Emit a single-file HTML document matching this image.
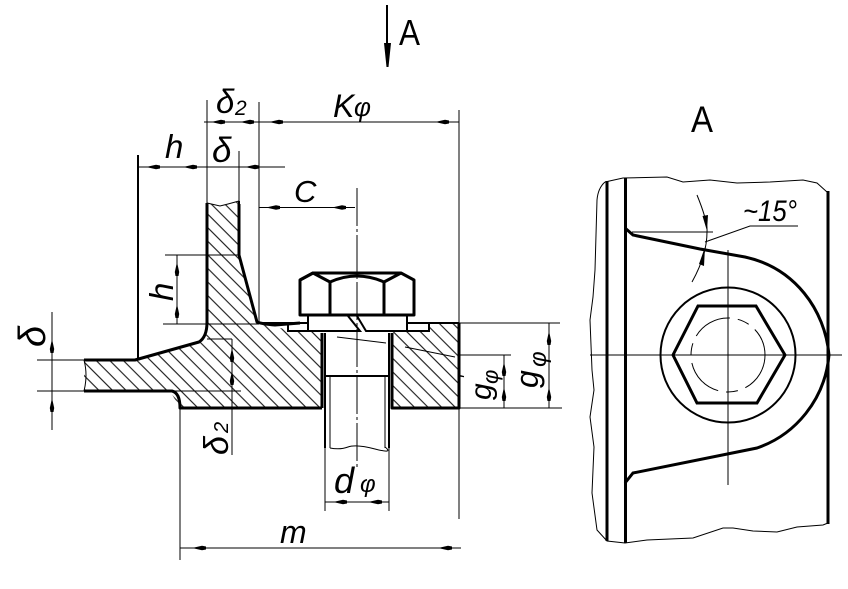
<!DOCTYPE html>
<html><head><meta charset="utf-8">
<style>
html,body{margin:0;padding:0;background:#fff;width:848px;height:589px;overflow:hidden}
svg{display:block}
text{font-family:"Liberation Sans",sans-serif;font-style:italic;fill:#000}
.thin{stroke:#000;stroke-width:1;fill:none}
.med{stroke:#000;stroke-width:2;fill:none}
.thick{stroke:#000;stroke-width:3;fill:none}
.ar{fill:#000;stroke:none}
</style></head>
<body>
<svg width="848" height="589" viewBox="0 0 848 589" xmlns="http://www.w3.org/2000/svg">
<defs>
<pattern id="h" width="9.6" height="9.6" patternUnits="userSpaceOnUse" patternTransform="rotate(45)">
<rect x="0" y="4" width="9.6" height="1" fill="#000"/>
</pattern>
<g id="ah"><path class="ar" d="M-7 0L3-2.2L7-1.5V1.5L3 2.2Z"/></g>
<g id="av"><path class="ar" d="M0-7L2.2 3L1.5 7H-1.5L-2.2 3Z"/></g>
</defs>
<rect width="848" height="589" fill="#fff"/>

<!-- hatching -->
<path fill="url(#h)" d="M207 203L220 206L228 204L239 201V255L257 322L288 330H322V408H180L170 391H84V360H135L200 342L207 330Z"/>
<path fill="url(#h)" d="M392 332H429V323H459V408H392Z"/>

<!-- extension lines and dimension lines -->
<g class="thin">
<path d="M204 122H459M138 167H285M259 207.5H355M180 548H461M325 502H389"/>
<path d="M165 255H240M163 324H259M37 360H135M37 391H170M207 339H232M171 391H241"/>
<path d="M459 323H560M459 355H511M459 408H562"/>
<path d="M52 312V430M177 255V324M232 339V455M504 355V408M549 323V408"/>
<path d="M207 100V203M259 102V324M239 151V204M459 110V519M180 404V560M325 448V511M389 448V511"/>
<path d="M357 188V470" stroke-dasharray="38 3 3 3"/>
<path d="M337 337L386 343M405 347L455 357"/>
</g>
<path class="med" d="M138 155V358"/>

<!-- arrowheads -->
<use href="#ah" x="218" y="122"/><use href="#ah" x="247" y="122"/><use href="#ah" x="276" y="122"/><use href="#ah" x="442" y="122"/>
<use href="#ah" x="153" y="167"/><use href="#ah" x="190" y="167"/><use href="#ah" x="252" y="167"/>
<use href="#ah" x="273" y="207.5"/><use href="#ah" x="339" y="207.5"/>
<use href="#ah" x="199" y="548"/><use href="#ah" x="445" y="548"/>
<use href="#ah" x="340" y="502"/><use href="#ah" x="375" y="502"/>
<use href="#av" x="177" y="269"/><use href="#av" x="177" y="311"/>
<use href="#av" x="52" y="346"/><use href="#av" x="52" y="405"/>
<use href="#av" x="232" y="355"/><use href="#av" x="232" y="378"/>
<use href="#av" x="504" y="369"/><use href="#av" x="504" y="394"/>
<use href="#av" x="549" y="338"/><use href="#av" x="549" y="394"/>

<!-- view arrow -->
<path class="med" d="M387 5V50"/>
<path class="ar" d="M384 43H391L388.500 67H386.500Z"/>

<!-- section outline -->
<g class="thick" stroke-linejoin="round">
<path d="M207 203V322Q207 337 199 342L135 360H84M84 391H172Q180 393 180 408H322"/>
<path d="M239 204V255L257 322Q262 324 275 325L300 323"/>
<path d="M459 323V408H392V333M322 408V333"/>
</g>
<path class="thin" d="M207 203L220 206L228 204L239 201M84 360Q88 375 84 391"/>
<path class="med" d="M239 201V255M429 323H459M258 323H308M288 325V331H308M407 323H429V331H407"/>

<!-- bolt head -->
<g class="thick" stroke-linejoin="round">
<path d="M313 273H401L414 280V315H300V280Z"/>
<path d="M300 280L313 273L330 282Q357 270 384 282L401 273"/>
<path d="M330 282V315M384 282V315"/>
</g>
<!-- washer -->
<path class="med" d="M308 316V331H360L348 316M357 316L366 331H407V316"/>
<!-- bolt shank -->
<g class="med">
<path d="M325 333V448M389 333V448M326 376H389"/>
</g>
<path class="thin" d="M330 376V448M385 376V448M330 448Q340 450 348 447T375 449T385 447"/>

<!-- right view -->
<g class="thin">
<path d="M605 182L623 178L667 177L683 182L710 180L737 183L770 182L803 180L817 183L827 192"/>
<path d="M605 182Q598 188 597 200L595 270L593 297L590 320L591 345L592 370L594 390L590 417L594 447L592 493L597 530L607 541L625 543L647 540L693 538L723 528L733 528L753 531L777 532L797 527L823 525L828 523"/>
<path d="M590 355H842M728 250V485"/>
<path d="M632 232H713"/>
<path d="M697 195Q708 222 707 232Q707 255 692 282"/>
<path d="M705 242L750 226H798"/>
</g>
<path class="ar" d="M707 231L702.500 216L708 215Z"/>
<path class="ar" d="M705 247L699 264L704 266Z"/>
<g class="thick">
<path d="M607 181V541M625.500 178V543M828 191V524"/>
<path d="M625 228L633 235L700 249L745 257C795 268 825 310 829 355C825 400 795 435 757 448L633 473L625 483"/>
<path d="M698 306H756L785 355L757 403H697L673 355Z"/>
</g>
<circle class="med" cx="728" cy="355" r="67.500"/>
<circle class="thin" cx="728" cy="355" r="37" stroke-dasharray="40 8 12 8" stroke-width="1.500"/>

<!-- labels -->
<text x="399" y="45" font-size="36" style="font-style:normal" textLength="21" lengthAdjust="spacingAndGlyphs">A</text>
<text x="691" y="132" font-size="37" style="font-style:normal" textLength="22" lengthAdjust="spacingAndGlyphs">A</text>
<text x="216" y="113" font-size="33">δ</text><text x="235" y="115" font-size="21">2</text>
<text x="333" y="117" font-size="32">K</text><text x="354" y="116" font-size="26">φ</text>
<text x="165" y="158" font-size="33">h</text>
<text x="212" y="162" font-size="35">δ</text>
<text x="294" y="202" font-size="31">C</text>
<text transform="translate(173 301) rotate(-90)" font-size="33">h</text>
<text transform="translate(45 347) rotate(-90)" font-size="38">δ</text>
<text transform="translate(228 455) rotate(-90)" font-size="34">δ</text>
<text transform="translate(228 433) rotate(-90)" font-size="20">2</text>
<text x="334" y="493" font-size="36">d</text><text x="360" y="492" font-size="24">φ</text>
<text x="280" y="543" font-size="32">m</text>
<text transform="translate(491 400) rotate(-90)" font-size="30">g</text>
<text transform="translate(498 384) rotate(-90)" font-size="22">φ</text>
<text transform="translate(473 379) rotate(-90)" font-size="18">'</text>
<text transform="translate(538 388) rotate(-90)" font-size="32">g</text>
<text transform="translate(546 367) rotate(-90)" font-size="24">φ</text>
<text x="743" y="221" font-size="30" textLength="54" lengthAdjust="spacingAndGlyphs">~15°</text>
</svg>
</body></html>
